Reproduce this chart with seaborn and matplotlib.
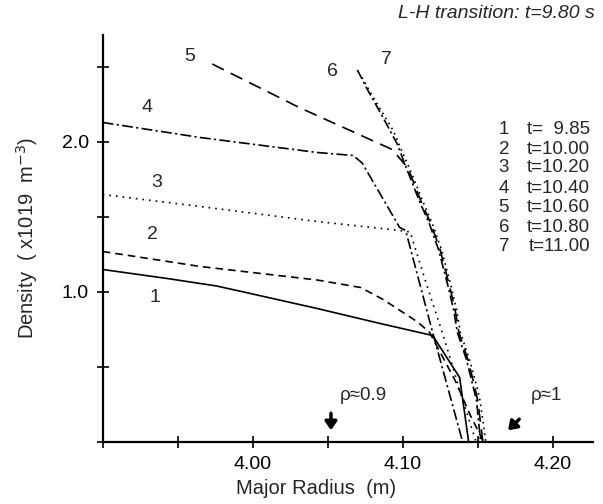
import numpy as np
import pandas as pd
import matplotlib
matplotlib.use("Agg")
import matplotlib.pyplot as plt
import seaborn as sns

# ---- data ----
x1 = [3.900, 3.943, 3.976, 3.994, 4.043, 4.085, 4.120, 4.138, 4.144]
y1 = [1.15, 1.09, 1.04, 1.00, 0.89, 0.79, 0.71, 0.43, 0.0]

x2 = [3.900, 3.965, 4.043, 4.072, 4.087, 4.110, 4.118, 4.135, 4.145, 4.154]
y2 = [1.27, 1.17, 1.08, 1.03, 0.95, 0.80, 0.73, 0.41, 0.18, 0.0]

x3 = [3.900, 3.965, 4.043, 4.098, 4.105, 4.115, 4.128, 4.140, 4.149]
y3 = [1.65, 1.57, 1.47, 1.41, 1.40, 1.08, 0.68, 0.28, 0.0]

x4 = [3.900, 3.965, 4.043, 4.067, 4.073, 4.098, 4.102, 4.120, 4.140]
y4 = [2.13, 2.03, 1.93, 1.91, 1.86, 1.43, 1.41, 0.73, 0.0]

x5 = [3.973, 4.031, 4.093, 4.1015, 4.105, 4.112, 4.119, 4.125, 4.1315, 4.135, 4.1375, 4.1435, 4.148, 4.150, 4.1535]
y5 = [2.52, 2.23, 1.95, 1.85, 1.79, 1.61, 1.45, 1.28, 1.03, 0.88, 0.73, 0.55, 0.37, 0.28, 0.0]

x6 = [4.0698, 4.0765, 4.0849, 4.0962, 4.1035, 4.1110, 4.1180, 4.1240, 4.1305, 4.1340, 4.1365, 4.1425, 4.1470, 4.1492, 4.1520]
y6 = [2.48, 2.35, 2.20, 1.99, 1.80, 1.61, 1.45, 1.28, 1.03, 0.88, 0.73, 0.55, 0.37, 0.28, 0.0]

x7 = [4.0729, 4.0802, 4.0935, 4.0982, 4.1060, 4.1132, 4.1200, 4.1260, 4.1325, 4.1360, 4.1385, 4.1445, 4.1495, 4.1515, 4.1555]
y7 = [2.43, 2.30, 2.08, 1.97, 1.79, 1.61, 1.45, 1.28, 1.03, 0.88, 0.73, 0.55, 0.37, 0.28, 0.0]

curve_names = ["1", "2", "3", "4", "5", "6", "7"]
legend_times = ["  9.85", "10.00", "10.20", "10.40", "10.60", "10.80", "11.00"]
label_x = [3.935, 3.9335, 3.936, 3.9295, 3.958, 4.0535, 4.0889]
label_y = [0.96, 1.38, 1.727, 2.227, 2.567, 2.467, 2.547]

xs = [x1, x2, x3, x4, x5, x6, x7]
ys = [y1, y2, y3, y4, y5, y6, y7]

rows = []
for name, xx, yy in zip(curve_names, xs, ys):
    for i, (a, b) in enumerate(zip(xx, yy)):
        rows.append({"R": a, "n": b, "curve": name, "order": i})
df = pd.DataFrame(rows)

sns.set_style("ticks")
plt.rcParams['font.family'] = ['Liberation Sans', 'DejaVu Sans']

fig = plt.figure(figsize=(6.03, 5.04), dpi=100)
ax = fig.add_axes([0.1703, 0.1230, 0.8131, 0.8075])

dashes = {
    "1": "",
    "2": (4.6, 3.0),
    "3": (1.0, 3.0),
    "4": (6.5, 2.0, 1.3, 2.0),
    "5": (7.8, 4.6),
    "6": (6.0, 2.0, 1.3, 2.0),
    "7": (1.0, 2.5),
}

sns.lineplot(data=df, x="R", y="n", style="curve", dashes=dashes,
             color="black", linewidth=1.2, estimator=None, sort=False,
             legend=False, ax=ax)

ax.set_xlim(3.90, 4.2269)
ax.set_ylim(0, 2.713)

xt = [3.90, 3.95, 4.00, 4.05, 4.10, 4.15, 4.20]
xtl = ["", "", "4.00", "", "4.10", "", "4.20"]
yt = [0.0, 0.5, 1.0, 1.5, 2.0, 2.5]
ytl = ["", "", "1.0", "", "2.0", ""]
ax.set_xticks(xt)
ax.set_xticklabels(xtl)
ax.set_yticks(yt)
ax.set_yticklabels(ytl)
ax.tick_params(direction="inout", length=8, width=1.2, labelsize=14, colors="black", pad=6)
ax.set_xlabel("")
ax.set_ylabel("")

sns.despine(ax=ax)
for s in ["left", "bottom"]:
    ax.spines[s].set_linewidth(1.6)
    ax.spines[s].set_color("black")

# curve number labels
for name, lx, ly in zip(curve_names, label_x, label_y):
    ax.text(lx, ly, name, fontsize=14, ha="center", va="center")

# legend-like text block
leg_y = [2.08, 1.953, 1.827, 1.693, 1.56, 1.427, 1.30]
for name, t, yy in zip(curve_names, legend_times, leg_y):
    ax.text(4.1640, yy, name, fontsize=13.5, ha="left", va="center")
    ax.text(4.2250, yy, "t=" + t, fontsize=13.5, ha="right", va="center")

# rho annotations
ax.annotate("", xy=(4.0522, 0.06), xytext=(4.0522, 0.21),
            arrowprops=dict(arrowstyle="-|>,head_length=0.5,head_width=0.35",
                            lw=2.5, color="black"))
ax.text(4.0582, 0.307, "ρ≈0.9", fontsize=13.5, ha="left", va="center")
ax.annotate("", xy=(4.1690, 0.065), xytext=(4.1790, 0.165),
            arrowprops=dict(arrowstyle="-|>,head_length=0.5,head_width=0.35",
                            lw=2.5, color="black"))
ax.text(4.1855, 0.307, "ρ≈1", fontsize=13.5, ha="left", va="center")

fig.text(595 / 603, 1 - 13 / 504, "L-H transition: t=9.80 s", fontsize=14,
         style="italic", ha="right", va="center")
fig.text(316 / 603, 1 - 488 / 504, "Major Radius  (m)", fontsize=14.5,
         ha="center", va="center")
fig.text(27 / 603, 1 - 238 / 504, "Density  ( x1019  m$^{-3}$)", fontsize=14.5,
         rotation=90, ha="center", va="center")

fig.savefig("out.png", dpi=100)
